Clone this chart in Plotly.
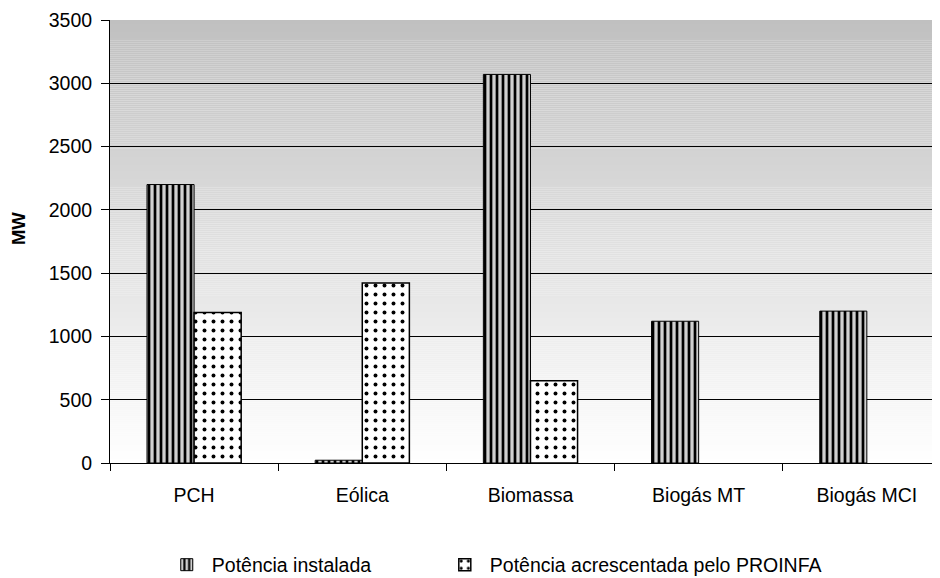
import plotly.graph_objects as go

categories = ["PCH", "Eólica", "Biomassa", "Biogás MT", "Biogás MCI"]
installed = [2200, 22, 3070, 1120, 1200]
proinfa = [1190, 1423, 650, None, None]
series_names = ["Potência instalada", "Potência acrescentada pelo PROINFA"]
y_ticks = [0, 500, 1000, 1500, 2000, 2500, 3000, 3500]
y_title = "MW"

xpos = list(range(len(categories)))
FONT = "Liberation Sans, Arial, sans-serif"

fig = go.Figure()
fig.add_trace(go.Bar(
    x=xpos, y=installed, name=series_names[0], legend="legend",
    marker=dict(color="white",
                line=dict(color="black", width=1),
                pattern=dict(shape="|", fgcolor="black", bgcolor="#d0d0d0",
                             size=6, solidity=0.45, fillmode="replace")),
))
fig.add_trace(go.Bar(
    x=xpos, y=proinfa, name=series_names[1], legend="legend2",
    marker=dict(color="white",
                line=dict(color="black", width=1.5),
                pattern=dict(shape=".", fgcolor="black", bgcolor="white",
                             size=9, solidity=0.15, fillmode="replace")),
))

# gradient background
shapes = []
n = 220
for i in range(n):
    t = i / (n - 1)
    c = int(round(192 + (255 - 192) * t))
    shapes.append(dict(type="rect", xref="paper", yref="paper",
                       x0=0, x1=1, y0=1 - (i + 1) / n, y1=1 - i / n,
                       fillcolor=f"rgb({c},{c},{c})", line=dict(width=0),
                       layer="below"))

leg_common = dict(orientation="h", xref="container", yref="container",
                  y=0.0228, xanchor="left", yanchor="middle", itemwidth=40,
                  font=dict(size=19.5), bgcolor="rgba(0,0,0,0)")

fig.update_layout(
    width=932, height=570,
    margin=dict(l=102, r=0, t=12, b=115, autoexpand=False),
    paper_bgcolor="white", plot_bgcolor="rgba(0,0,0,0)",
    barmode="group", bargap=0.44, bargroupgap=0,
    font=dict(family=FONT, size=19.5, color="black"),
    shapes=shapes,
    showlegend=True,
    legend=dict(x=0.165, **leg_common),
    legend2=dict(x=0.4633, **leg_common),
    annotations=[dict(text=f"<b>{y_title}</b>", xref="paper", yref="paper",
                      x=0, y=0.528, xshift=-92, xanchor="center",
                      yanchor="middle", textangle=-90, showarrow=False,
                      font=dict(size=18.5))],
    xaxis=dict(range=[-0.5, 4.435], tickvals=xpos, ticktext=categories,
               ticks="", showgrid=False, zeroline=False, automargin=False,
               showline=True, linecolor="black", linewidth=1,
               ticklabelstandoff=15,
               minor=dict(tick0=-0.5, dtick=1, ticks="outside", ticklen=7,
                          tickcolor="black", showgrid=False)),
    yaxis=dict(range=[0, 3500], tickvals=y_ticks, ticks="outside", ticklen=8,
               tickcolor="black", showgrid=True, gridcolor="black",
               gridwidth=1, zeroline=False, showline=True, linecolor="black",
               linewidth=1, automargin=False, ticklabelstandoff=5),
)

fig.write_html("out.html")
